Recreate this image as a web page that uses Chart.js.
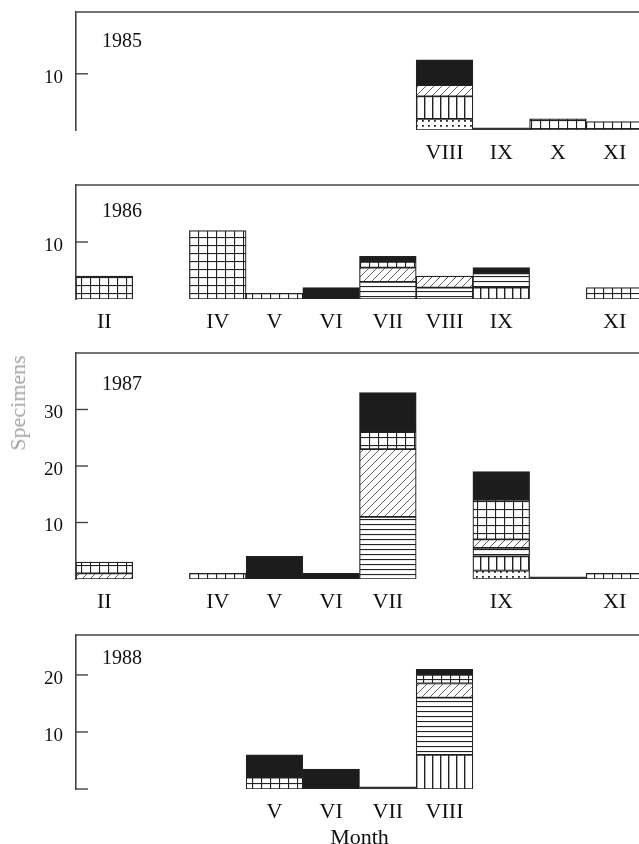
<!DOCTYPE html>
<html>
<head>
<meta charset="utf-8">
<script src="https://cdn.jsdelivr.net/npm/chart.js@4.4.1/dist/chart.umd.min.js"></script>
<style>
  html, body { margin: 0; padding: 0; background: #fff; overflow: hidden; width: 639px; height: 844px; }
  .panel { position: absolute; left: 0; }
  .panel canvas { display: block; }
  .year { position: absolute; left: 102px; font-family: 'Liberation Serif', 'DejaVu Serif', serif; font-size: 20px; line-height: 20px; color: #111; }
  #ylab { position: absolute; left: 18px; top: 403px; transform: translate(-50%, -50%) rotate(-90deg); white-space: nowrap;
          font-family: 'Liberation Serif', 'DejaVu Serif', serif; font-size: 22px; color: #a5a5a5; }
</style>
</head>
<body>
<div class="panel" style="top:8px"><canvas id="c1985" width="643" height="162"></canvas></div>
<div class="panel" style="top:181px"><canvas id="c1986" width="643" height="158"></canvas></div>
<div class="panel" style="top:349px"><canvas id="c1987" width="643" height="270"></canvas></div>
<div class="panel" style="top:631px"><canvas id="c1988" width="643" height="220"></canvas></div>
<div class="year" style="top:30px">1985</div>
<div class="year" style="top:200px">1986</div>
<div class="year" style="top:373px">1987</div>
<div class="year" style="top:647px">1988</div>
<div id="ylab">Specimens</div>
<script>
// ---- categories (months) ----
const months = ['II', 'III', 'IV', 'V', 'VI', 'VII', 'VIII', 'IX', 'X', 'XI'];

// ---- month labels printed under each panel ----
const shown1985 = ['VIII', 'IX', 'X', 'XI'];
const shown1986 = ['II', 'IV', 'V', 'VI', 'VII', 'VIII', 'IX', 'XI'];
const shown1987 = ['II', 'IV', 'V', 'VI', 'VII', 'IX', 'XI'];
const shown1988 = ['V', 'VI', 'VII', 'VIII'];

// ---- y-axis tick values and maxima ----
const yTicks1985 = [10];
const yTicks1986 = [10];
const yTicks1987 = [10, 20, 30];
const yTicks1988 = [0, 10, 20];
const yMax = [21, 20, 40, 27];

// ---- series values (stack order bottom->top: dotted, vertical, horizontal, diagonal, grid, black) ----
//                 II    III   IV    V     VI    VII   VIII  IX    X     XI
const zero1985   = [null, null, null, null, null, null, null, 0,    null, null];
const dotted1985 = [null, null, null, null, null, null, 2,    null, null, null];
const vert1985   = [null, null, null, null, null, null, 4,    null, null, null];
const horiz1985  = [null, null, null, null, null, null, null, null, null, null];
const diag1985   = [null, null, null, null, null, null, 2,    null, null, null];
const grid1985   = [null, null, null, null, null, null, null, null, 2,    1.5 ];
const black1985  = [null, null, null, null, null, null, 4.5,  null, null, null];

const zero1986   = [null, null, null, null, null, null, null, null, null, null];
const dotted1986 = [null, null, null, null, null, null, null, null, null, null];
const vert1986   = [null, null, null, null, null, null, null, 2,    null, null];
const horiz1986  = [null, null, null, null, null, 3,    2,    2.5,  null, null];
const diag1986   = [null, null, null, null, null, 2.5,  2,    null, null, null];
const grid1986   = [4,    null, 12,   1,    null, 1,    null, null, null, 2   ];
const black1986  = [null, null, null, null, 2,    1,    null, 1,    null, null];

const zero1987   = [null, null, null, null, null, null, null, null, 0,    null];
const dotted1987 = [null, null, null, null, null, null, null, 1.5,  null, null];
const vert1987   = [null, null, null, null, null, null, null, 2.5,  null, null];
const horiz1987  = [null, null, null, null, null, 11,   null, 1.5,  null, null];
const diag1987   = [1,    null, null, null, null, 12,   null, 1.5,  null, null];
const grid1987   = [2,    null, 1,    null, null, 3,    null, 7,    null, 1   ];
const black1987  = [null, null, null, 4,    1,    7,    null, 5,    null, null];

const zero1988   = [null, null, null, null, null, 0,    null, null, null, null];
const dotted1988 = [null, null, null, null, null, null, null, null, null, null];
const vert1988   = [null, null, null, null, null, null, 6,    null, null, null];
const horiz1988  = [null, null, null, null, null, null, 10,   null, null, null];
const diag1988   = [null, null, null, null, null, null, 2.5,  null, null, null];
const grid1988   = [null, null, null, 2,    null, null, 1.5,  null, null, null];
const black1988  = [null, null, null, 4,    3.5,  null, 1,    null, null, null];

// ---- hatch patterns ----
function makePattern(kind) {
  const c = document.createElement('canvas');
  const g = c.getContext('2d');
  const ink = '#222';
  if (kind === 'dotted') {
    c.width = 6; c.height = 5;
    g.fillStyle = '#fff'; g.fillRect(0, 0, 6, 5);
    g.fillStyle = ink; g.fillRect(2, 2, 1.8, 1.8);
  } else if (kind === 'vert') {
    c.width = 8; c.height = 4;
    g.fillStyle = '#fff'; g.fillRect(0, 0, 8, 4);
    g.fillStyle = ink; g.fillRect(0, 0, 1.4, 4);
  } else if (kind === 'horiz') {
    c.width = 4; c.height = 5;
    g.fillStyle = '#fff'; g.fillRect(0, 0, 4, 5);
    g.fillStyle = ink; g.fillRect(0, 0, 4, 1.1);
  } else if (kind === 'diag') {
    c.width = 8; c.height = 8;
    g.fillStyle = '#fff'; g.fillRect(0, 0, 8, 8);
    g.strokeStyle = '#555'; g.lineWidth = 0.9;
    g.beginPath();
    g.moveTo(-1, 9); g.lineTo(9, -1);
    g.moveTo(-1, 1); g.lineTo(1, -1);
    g.moveTo(7, 9); g.lineTo(9, 7);
    g.stroke();
  } else if (kind === 'grid') {
    c.width = 9; c.height = 8;
    g.fillStyle = '#fff'; g.fillRect(0, 0, 9, 8);
    g.fillStyle = ink; g.fillRect(0, 0, 9, 1.1); g.fillRect(0, 0, 1.1, 8);
  }
  return g.createPattern(c, 'repeat');
}
const fills = [makePattern('dotted'), makePattern('vert'), makePattern('horiz'),
               makePattern('diag'), makePattern('grid'), '#1c1c1c'];

const serif = "'Liberation Serif', 'DejaVu Serif', serif";

// frame: top line and inward tick marks
const framePlugin = {
  id: 'frame',
  afterDraw(chart) {
    const { ctx, chartArea: a, scales } = chart;
    ctx.save();
    ctx.strokeStyle = '#444';
    ctx.lineWidth = 1.6;
    ctx.beginPath();
    ctx.moveTo(a.left - 0.8, a.top);
    ctx.lineTo(a.right + 20, a.top);
    ctx.stroke();
    ctx.lineWidth = 1.4;
    scales.y.ticks.forEach(t => {
      const py = scales.y.getPixelForValue(t.value);
      ctx.beginPath();
      ctx.moveTo(a.left, py);
      ctx.lineTo(a.left + 12, py);
      ctx.stroke();
    });
    ctx.restore();
  }
};

function buildChart(id, series, zero, shown, max, ticks, xHeight, title) {
  const datasets = [{ data: zero, backgroundColor: '#333', borderWidth: 0, minBarLength: 2, stack: 's' }]
    .concat(series.map((d, i) => ({
      data: d, backgroundColor: fills[i], borderColor: '#222', borderWidth: 1.2,
      borderSkipped: false, stack: 's'
    })));
  return new Chart(document.getElementById(id), {
    type: 'bar',
    data: { labels: months, datasets },
    options: {
      responsive: false,
      animation: false,
      layout: { padding: { top: 4, left: 0, right: 0, bottom: 0 } },
      plugins: { legend: { display: false }, tooltip: { enabled: false } },
      datasets: { bar: { categoryPercentage: 1, barPercentage: 1 } },
      scales: {
        x: {
          stacked: true,
          grid: { display: false, drawTicks: false },
          border: { display: false },
          ticks: {
            padding: 10, autoSkip: false, maxRotation: 0, color: '#111',
            font: { family: serif, size: 22 },
            callback: (v, i) => shown.includes(months[i]) ? months[i] : ''
          },
          title: title ? { display: true, text: title, color: '#111', font: { family: serif, size: 22 }, padding: { top: 0, bottom: 0 } } : { display: false },
          afterFit: s => { s.height = xHeight; s.paddingLeft = 0; s.paddingRight = 0; }
        },
        y: {
          stacked: true, min: 0, max: max,
          grid: { display: false, drawTicks: false },
          border: { display: true, color: '#444', width: 1.6 },
          ticks: {
            padding: 13, labelOffset: 4, color: '#111',
            font: { family: serif, size: 19 },
            callback: v => (v === 0 ? '' : String(v))
          },
          afterBuildTicks: s => { s.ticks = ticks.map(v => ({ value: v })); },
          afterFit: s => { s.width = 76; s.paddingTop = 0; s.paddingBottom = 0; }
        }
      }
    },
    plugins: [framePlugin]
  });
}

buildChart('c1985', [dotted1985, vert1985, horiz1985, diag1985, grid1985, black1985], zero1985, shown1985, yMax[0], yTicks1985, 40, null);
buildChart('c1986', [dotted1986, vert1986, horiz1986, diag1986, grid1986, black1986], zero1986, shown1986, yMax[1], yTicks1986, 40, null);
buildChart('c1987', [dotted1987, vert1987, horiz1987, diag1987, grid1987, black1987], zero1987, shown1987, yMax[2], yTicks1987, 40, null);
buildChart('c1988', [dotted1988, vert1988, horiz1988, diag1988, grid1988, black1988], zero1988, shown1988, yMax[3], yTicks1988, 62, 'Month');
</script>
</body>
</html>
